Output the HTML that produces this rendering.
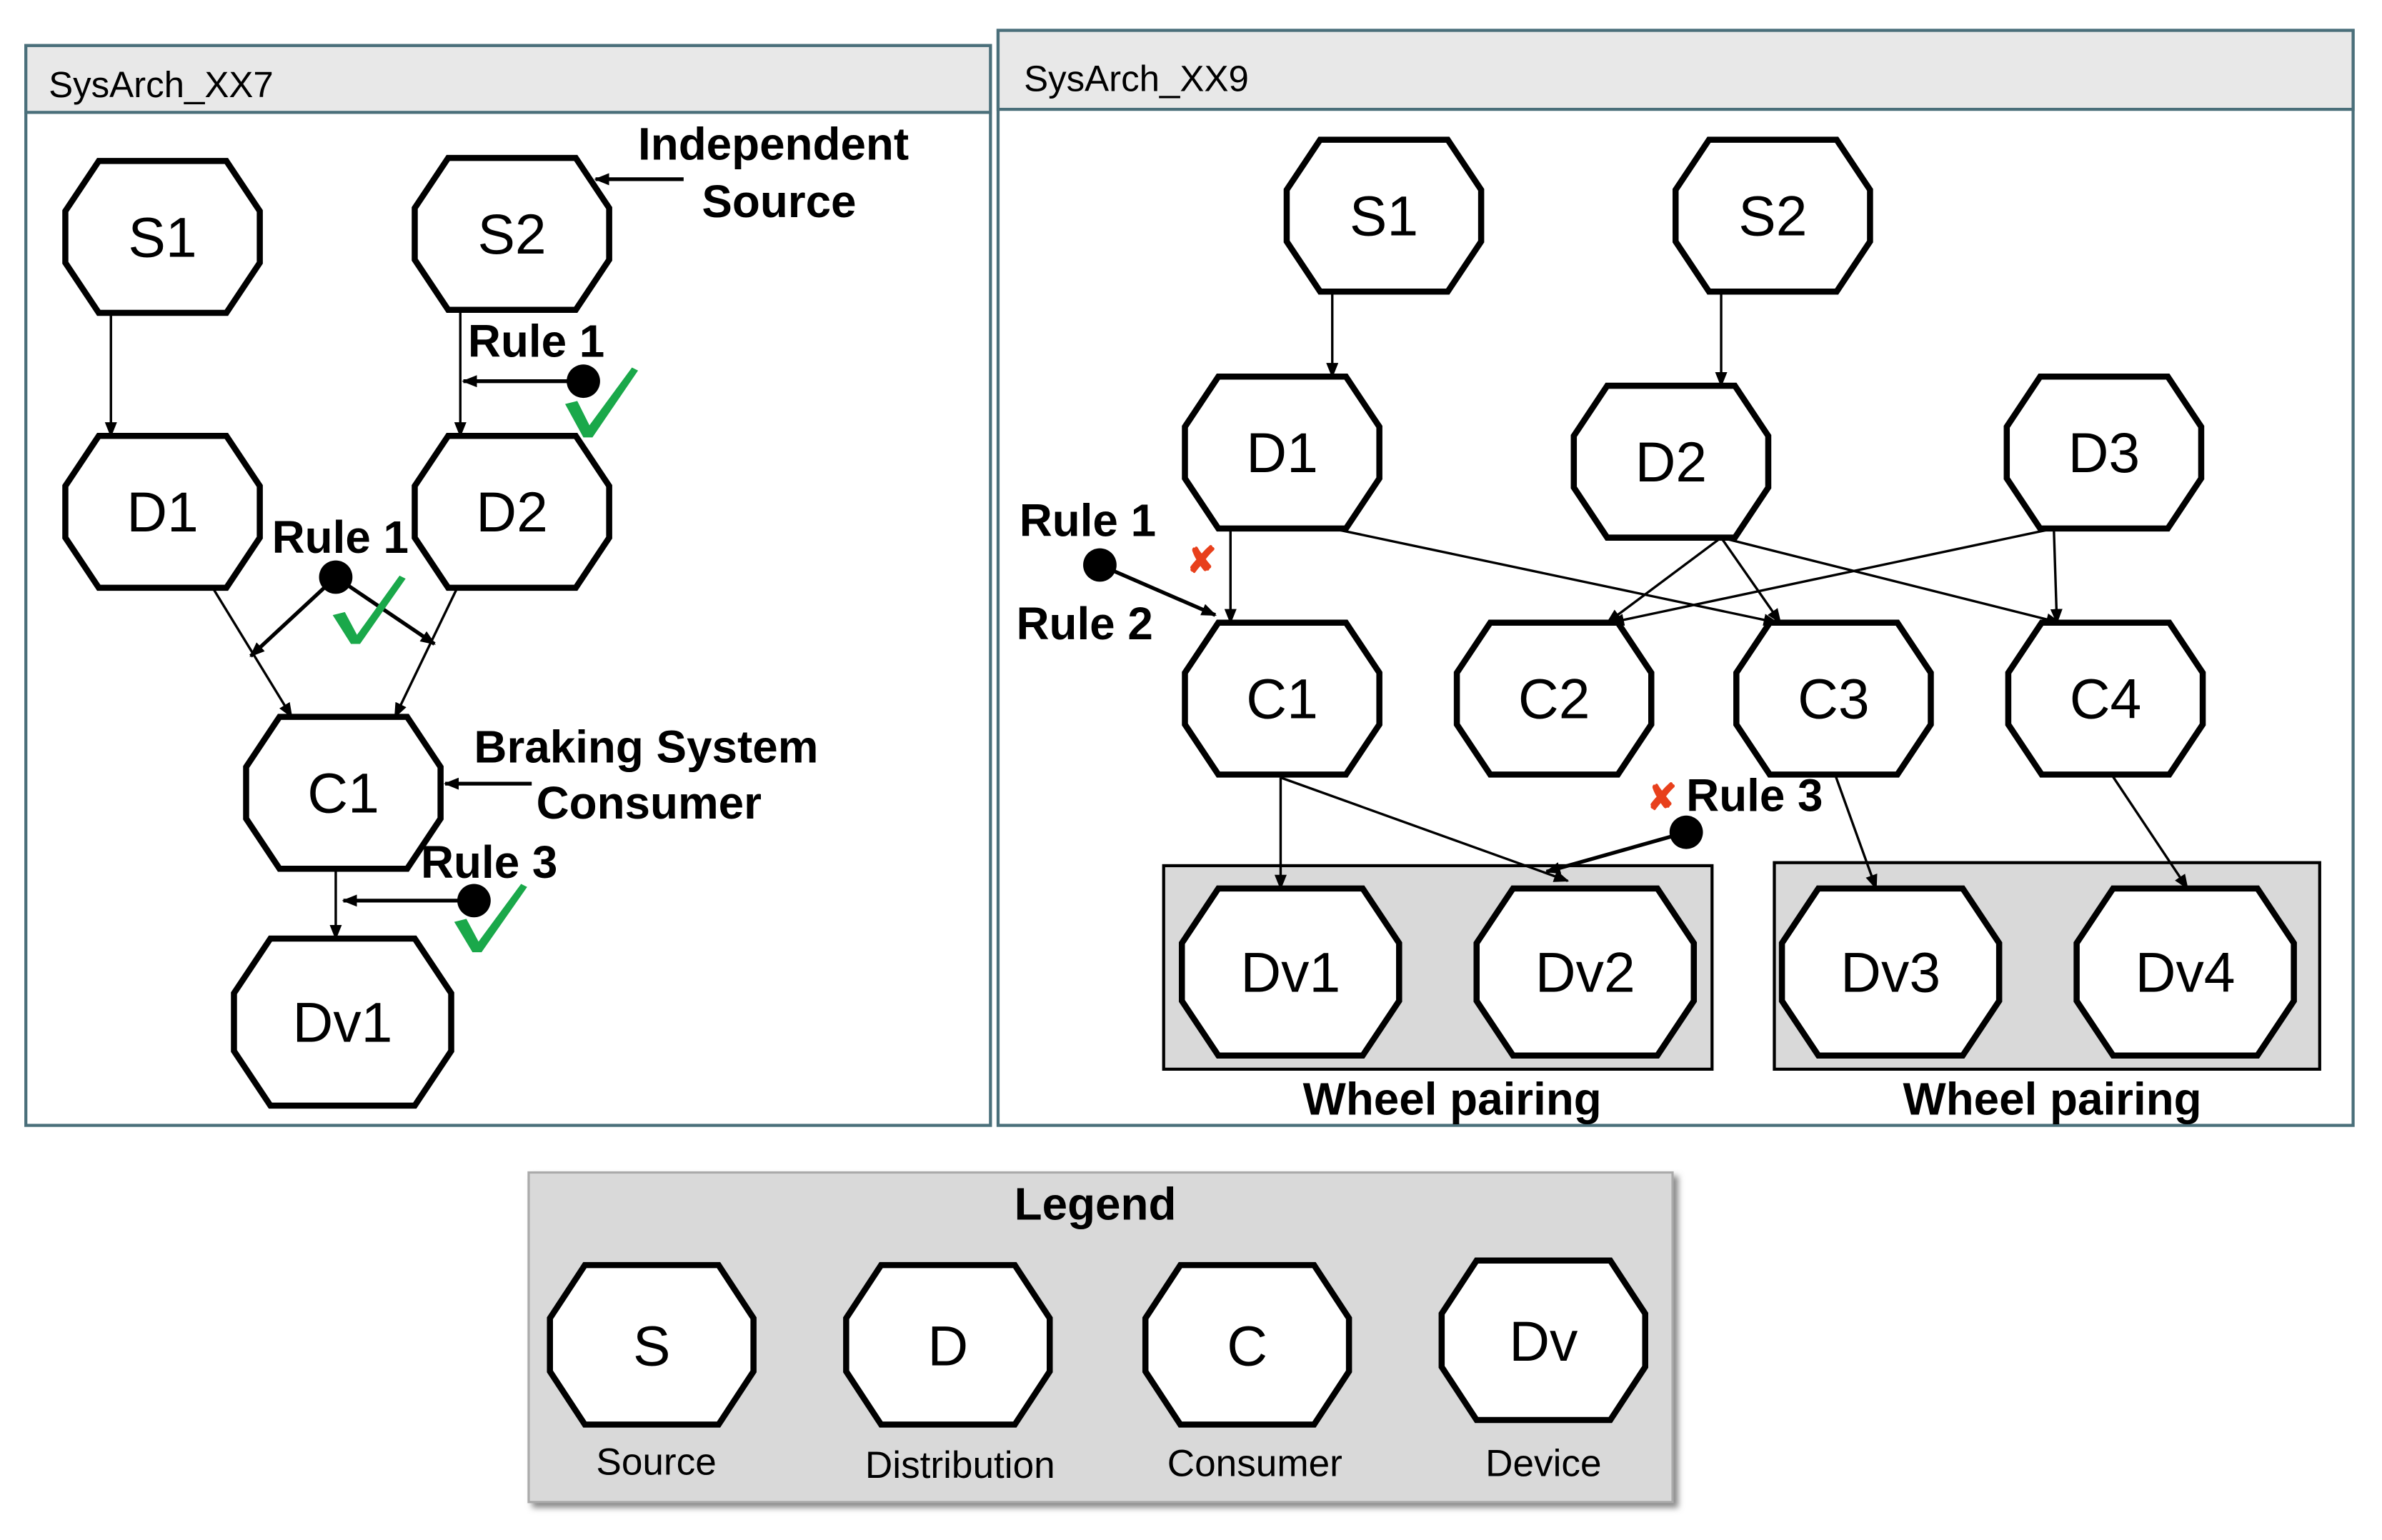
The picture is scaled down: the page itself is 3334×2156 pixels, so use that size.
<!DOCTYPE html>
<html><head><meta charset="utf-8"><style>
html,body{margin:0;padding:0;background:#fff}
svg{display:block}
text{font-family:"Liberation Sans",Arial,sans-serif}
.n{font-size:37px;text-anchor:middle;fill:#000;stroke:none}
.b{font-size:30px;font-weight:bold}
.o{fill:#fff;stroke:#000;stroke-width:4}
</style></head><body>
<svg width="3334" height="2156" viewBox="0 0 1568 1014" xmlns="http://www.w3.org/2000/svg">
<defs>
<marker id="a" markerWidth="10" markerHeight="8" refX="9" refY="4" orient="auto" markerUnits="userSpaceOnUse">
<path d="M0,0 L10,4 L0,8 Z" fill="#000"/></marker>
<filter id="sh"><feDropShadow dx="3" dy="3" stdDeviation="2" flood-color="#888"/></filter>
</defs>
<rect x="17" y="30" width="635" height="711" fill="#fff" stroke="#4a6f7a" stroke-width="2"/>
<rect x="17" y="30" width="635" height="44" fill="#e8e8e8" stroke="#4a6f7a" stroke-width="2"/>
<text x="32" y="64" font-size="24">SysArch_XX7</text>
<rect x="657" y="20" width="892" height="721" fill="#fff" stroke="#4a6f7a" stroke-width="2"/>
<rect x="657" y="20" width="892" height="52" fill="#e8e8e8" stroke="#4a6f7a" stroke-width="2"/>
<text x="674" y="60" font-size="24">SysArch_XX9</text>
<rect x="766" y="570" width="361" height="134" fill="#d9d9d9" stroke="#000" stroke-width="2"/>
<rect x="1168" y="568" width="359" height="136" fill="#d9d9d9" stroke="#000" stroke-width="2"/>
<text x="956" y="734" class="b" text-anchor="middle">Wheel pairing</text>
<text x="1351" y="734" class="b" text-anchor="middle">Wheel pairing</text>
<rect x="348" y="772" width="753" height="217" fill="#d9d9d9" stroke="#aaa" stroke-width="1.5" filter="url(#sh)"/>
<text x="721" y="803" class="b" text-anchor="middle">Legend</text>
<g fill="#000" font-size="25" text-anchor="middle">
<text x="432" y="971">Source</text>
<text x="632" y="973">Distribution</text>
<text x="826" y="972">Consumer</text>
<text x="1016" y="972">Device</text>
</g>
<!-- edges -->
<g stroke="#000" stroke-width="1.6" marker-end="url(#a)">
<line x1="73" y1="207" x2="73" y2="287"/>
<line x1="303" y1="205" x2="303" y2="287"/>
<line x1="140" y1="387" x2="192" y2="472"/>
<line x1="301" y1="387" x2="260" y2="472"/>
<line x1="221" y1="572" x2="221" y2="618"/>
<line x1="877" y1="192" x2="877" y2="248"/>
<line x1="1133" y1="192" x2="1133" y2="254"/>
<line x1="810" y1="348" x2="810" y2="410"/>
<line x1="877" y1="348" x2="1170" y2="410"/>
<line x1="1133" y1="354" x2="1058" y2="410"/>
<line x1="1133" y1="354" x2="1172" y2="410"/>
<line x1="1133" y1="354" x2="1356" y2="410"/>
<line x1="1352" y1="348" x2="1060" y2="410"/>
<line x1="1352" y1="348" x2="1354" y2="410"/>
<line x1="843" y1="512" x2="843" y2="585"/>
<line x1="843" y1="512" x2="1032" y2="580"/>
<line x1="1208" y1="510" x2="1235" y2="585"/>
<line x1="1390" y1="510" x2="1440" y2="585"/>
</g>
<!-- nodes 128x100 -->
<g transform="translate(43,106)"><polygon class="o" points="22,0 106,0 128,33 128,67 106,100 22,100 0,67 0,33"/><text class="n" x="64" y="63">S1</text></g>
<g transform="translate(273,104)"><polygon class="o" points="22,0 106,0 128,33 128,67 106,100 22,100 0,67 0,33"/><text class="n" x="64" y="63">S2</text></g>
<g transform="translate(43,287)"><polygon class="o" points="22,0 106,0 128,33 128,67 106,100 22,100 0,67 0,33"/><text class="n" x="64" y="63">D1</text></g>
<g transform="translate(273,287)"><polygon class="o" points="22,0 106,0 128,33 128,67 106,100 22,100 0,67 0,33"/><text class="n" x="64" y="63">D2</text></g>
<g transform="translate(162,472)"><polygon class="o" points="22,0 106,0 128,33 128,67 106,100 22,100 0,67 0,33"/><text class="n" x="64" y="63">C1</text></g>
<g transform="translate(847,92)"><polygon class="o" points="22,0 106,0 128,33 128,67 106,100 22,100 0,67 0,33"/><text class="n" x="64" y="63">S1</text></g>
<g transform="translate(1103,92)"><polygon class="o" points="22,0 106,0 128,33 128,67 106,100 22,100 0,67 0,33"/><text class="n" x="64" y="63">S2</text></g>
<g transform="translate(780,248)"><polygon class="o" points="22,0 106,0 128,33 128,67 106,100 22,100 0,67 0,33"/><text class="n" x="64" y="63">D1</text></g>
<g transform="translate(1036,254)"><polygon class="o" points="22,0 106,0 128,33 128,67 106,100 22,100 0,67 0,33"/><text class="n" x="64" y="63">D2</text></g>
<g transform="translate(1321,248)"><polygon class="o" points="22,0 106,0 128,33 128,67 106,100 22,100 0,67 0,33"/><text class="n" x="64" y="63">D3</text></g>
<g transform="translate(780,410)"><polygon class="o" points="22,0 106,0 128,33 128,67 106,100 22,100 0,67 0,33"/><text class="n" x="64" y="63">C1</text></g>
<g transform="translate(959,410)"><polygon class="o" points="22,0 106,0 128,33 128,67 106,100 22,100 0,67 0,33"/><text class="n" x="64" y="63">C2</text></g>
<g transform="translate(1143,410)"><polygon class="o" points="22,0 106,0 128,33 128,67 106,100 22,100 0,67 0,33"/><text class="n" x="64" y="63">C3</text></g>
<g transform="translate(1322,410)"><polygon class="o" points="22,0 106,0 128,33 128,67 106,100 22,100 0,67 0,33"/><text class="n" x="64" y="63">C4</text></g>
<!-- 143x110 -->
<g transform="translate(154,618)"><polygon class="o" points="24,0 119,0 143,36 143,74 119,110 24,110 0,74 0,36"/><text class="n" x="71.5" y="68">Dv1</text></g>
<g transform="translate(778,585)"><polygon class="o" points="24,0 119,0 143,36 143,74 119,110 24,110 0,74 0,36"/><text class="n" x="71.5" y="68">Dv1</text></g>
<g transform="translate(972,585)"><polygon class="o" points="24,0 119,0 143,36 143,74 119,110 24,110 0,74 0,36"/><text class="n" x="71.5" y="68">Dv2</text></g>
<g transform="translate(1173,585)"><polygon class="o" points="24,0 119,0 143,36 143,74 119,110 24,110 0,74 0,36"/><text class="n" x="71.5" y="68">Dv3</text></g>
<g transform="translate(1367,585)"><polygon class="o" points="24,0 119,0 143,36 143,74 119,110 24,110 0,74 0,36"/><text class="n" x="71.5" y="68">Dv4</text></g>
<!-- legend 134x105 -->
<g transform="translate(362,833)"><polygon class="o" points="23,0 111,0 134,35 134,70 111,105 23,105 0,70 0,35"/><text class="n" x="67" y="66">S</text></g>
<g transform="translate(557,833)"><polygon class="o" points="23,0 111,0 134,35 134,70 111,105 23,105 0,70 0,35"/><text class="n" x="67" y="66">D</text></g>
<g transform="translate(754,833)"><polygon class="o" points="23,0 111,0 134,35 134,70 111,105 23,105 0,70 0,35"/><text class="n" x="67" y="66">C</text></g>
<g transform="translate(949,830)"><polygon class="o" points="23,0 111,0 134,35 134,70 111,105 23,105 0,70 0,35"/><text class="n" x="67" y="66">Dv</text></g>
<!-- rule arrows -->
<g stroke="#000" stroke-width="2.5" marker-end="url(#a)">
<line x1="384" y1="251" x2="305" y2="251"/>
<line x1="221" y1="380" x2="165" y2="432"/>
<line x1="221" y1="380" x2="286" y2="424"/>
<line x1="312" y1="593" x2="226" y2="593"/>
<line x1="450" y1="118" x2="392" y2="118"/>
<line x1="350" y1="516" x2="293" y2="516"/>
<line x1="724" y1="372" x2="800" y2="405"/>
<line x1="1110" y1="548" x2="1018" y2="574"/>
</g>
<g fill="#000">
<circle cx="384" cy="251" r="11"/><circle cx="221" cy="380" r="11"/><circle cx="312" cy="593" r="11"/>
<circle cx="724" cy="372" r="11"/><circle cx="1110" cy="548" r="11"/>
</g>
<g fill="#1aa84a">
<path d="M372,266 L380,264 L388,280 L416,242 L420,244 L390,288 L384,288 Z"/>
<path d="M219,405 L227,403 L235,418 L263,379 L267,381 L237,424 L231,424 Z"/>
<path d="M299,607 L307,605 L315,620 L343,582 L347,584 L317,627 L311,627 Z"/>
</g>
<g fill="#e8401c" font-size="24" font-weight="bold" text-anchor="middle">
<text x="791" y="377">✘</text><text x="1094" y="533">✘</text>
</g>
<g fill="#000">
<text x="308" y="235" class="b">Rule 1</text>
<text x="179" y="364" class="b">Rule 1</text>
<text x="277" y="578" class="b">Rule 3</text>
<text x="420" y="105" class="b">Independent</text>
<text x="462" y="143" class="b">Source</text>
<text x="312" y="502" class="b">Braking System</text>
<text x="353" y="539" class="b">Consumer</text>
<text x="671" y="353" class="b">Rule 1</text>
<text x="669" y="421" class="b">Rule 2</text>
<text x="1110" y="534" class="b">Rule 3</text>
</g>
</svg>
</body></html>
